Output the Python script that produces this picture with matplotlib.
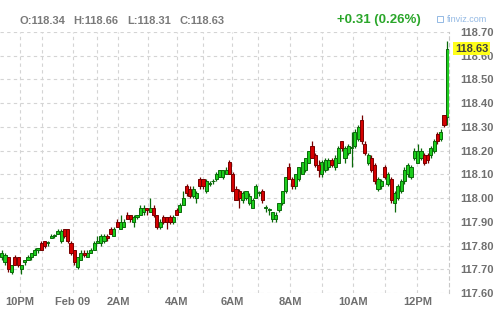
import matplotlib.pyplot as plt
from matplotlib.patches import Rectangle
import numpy as np

# 5-minute USDJPY style bars
opens = [117.75, 117.73, 117.75, 117.69, 117.75, 117.75, 117.70, 117.73, 117.74, 117.75,
         117.76, 117.78, 117.81, 117.82, 117.81, 117.83, 117.84, 117.85, 117.82, 117.87,
         117.87, 117.81, 117.78, 117.71, 117.74, 117.77, 117.75, 117.77, 117.78, 117.81,
         117.81, 117.82, 117.84, 117.87, 117.84, 117.90, 117.87, 117.88, 117.93, 117.93,
         117.90, 117.92, 117.93, 117.94, 117.96, 117.94, 117.96, 117.93, 117.88, 117.92,
         117.92, 117.92, 117.90, 117.95, 117.94, 117.97, 118.05, 118.04, 118.01, 118.00,
         118.08, 118.08, 118.03, 118.06, 118.07, 118.08, 118.09, 118.09, 118.10, 118.15,
         118.10, 118.04, 118.03, 117.99, 118.00, 117.98, 117.96, 118.00, 118.02, 118.03,
         117.96, 117.95, 117.91, 117.91, 117.95, 117.98, 118.03, 118.13, 118.08, 118.05,
         118.08, 118.10, 118.12, 118.15, 118.22, 118.18, 118.14, 118.10, 118.12, 118.13,
         118.16, 118.13, 118.15, 118.24, 118.17, 118.19, 118.21, 118.22, 118.25, 118.33,
         118.23, 118.15, 118.17, 118.14, 118.04, 118.05, 118.13, 118.06, 118.08, 117.98,
         118.00, 118.03, 118.07, 118.10, 118.09, 118.17, 118.15, 118.17, 118.18, 118.18,
         118.18, 118.20, 118.27, 118.25, 118.35, 118.34]
highs = [117.78, 117.77, 117.75, 117.72, 117.76, 117.75, 117.72, 117.74, 117.76, 117.77,
         117.79, 117.79, 117.82, 117.82, 117.82, 117.85, 117.85, 117.87, 117.87, 117.87,
         117.87, 117.82, 117.78, 117.75, 117.78, 117.78, 117.78, 117.79, 117.82, 117.84,
         117.85, 117.85, 117.85, 117.88, 117.88, 117.91, 117.93, 117.91, 117.94, 117.93,
         117.93, 117.93, 117.97, 117.97, 117.96, 118.00, 117.97, 117.93, 117.91, 117.93,
         117.92, 117.93, 117.93, 117.96, 117.98, 118.03, 118.06, 118.05, 118.05, 118.03,
         118.09, 118.08, 118.08, 118.07, 118.08, 118.11, 118.12, 118.12, 118.13, 118.16,
         118.11, 118.05, 118.04, 118.03, 118.03, 118.02, 118.00, 118.06, 118.03, 118.04,
         117.97, 117.96, 117.94, 117.94, 117.98, 118.03, 118.09, 118.15, 118.09, 118.10,
         118.13, 118.15, 118.17, 118.20, 118.24, 118.19, 118.16, 118.16, 118.17, 118.17,
         118.17, 118.18, 118.22, 118.24, 118.22, 118.23, 118.28, 118.29, 118.31, 118.35,
         118.24, 118.19, 118.18, 118.15, 118.09, 118.08, 118.14, 118.11, 118.09, 118.03,
         118.06, 118.08, 118.13, 118.15, 118.14, 118.21, 118.23, 118.21, 118.19, 118.19,
         118.22, 118.25, 118.28, 118.29, 118.35, 118.66]
lows = [117.74, 117.72, 117.69, 117.68, 117.72, 117.71, 117.68, 117.72, 117.74, 117.74,
        117.76, 117.77, 117.78, 117.79, 117.80, 117.83, 117.83, 117.85, 117.81, 117.83,
        117.81, 117.76, 117.72, 117.70, 117.74, 117.75, 117.75, 117.77, 117.78, 117.81,
        117.80, 117.81, 117.82, 117.85, 117.84, 117.88, 117.87, 117.88, 117.91, 117.90,
        117.88, 117.91, 117.93, 117.93, 117.93, 117.94, 117.92, 117.87, 117.87, 117.89,
        117.87, 117.89, 117.89, 117.93, 117.94, 117.97, 118.01, 118.00, 118.00, 117.98,
        118.04, 118.04, 118.02, 118.05, 118.06, 118.07, 118.09, 118.08, 118.10, 118.10,
        118.03, 117.99, 117.96, 117.98, 117.99, 117.97, 117.96, 118.00, 118.01, 117.98,
        117.94, 117.93, 117.90, 117.90, 117.94, 117.97, 118.02, 118.08, 118.04, 118.04,
        118.07, 118.10, 118.11, 118.15, 118.17, 118.13, 118.09, 118.09, 118.11, 118.12,
        118.13, 118.12, 118.15, 118.20, 118.15, 118.18, 118.13, 118.21, 118.24, 118.23,
        118.18, 118.14, 118.11, 118.06, 118.03, 118.04, 118.08, 118.05, 117.98, 117.94,
        117.99, 118.02, 118.06, 118.09, 118.08, 118.16, 118.15, 118.16, 118.14, 118.15,
        118.17, 118.19, 118.23, 118.24, 118.30, 118.31]
closes = [117.77, 117.76, 117.70, 117.72, 117.72, 117.72, 117.72, 117.74, 117.75, 117.77,
          117.78, 117.79, 117.78, 117.80, 117.81, 117.84, 117.84, 117.86, 117.86, 117.84,
          117.82, 117.77, 117.73, 117.75, 117.77, 117.76, 117.77, 117.78, 117.81, 117.82,
          117.84, 117.84, 117.83, 117.85, 117.87, 117.88, 117.90, 117.90, 117.91, 117.91,
          117.92, 117.93, 117.96, 117.96, 117.95, 117.96, 117.93, 117.88, 117.90, 117.90,
          117.90, 117.90, 117.92, 117.93, 117.97, 118.00, 118.02, 118.01, 118.04, 118.02,
          118.05, 118.05, 118.07, 118.06, 118.07, 118.10, 118.12, 118.12, 118.12, 118.10,
          118.03, 117.99, 118.00, 118.02, 118.03, 118.01, 117.99, 118.05, 118.02, 117.99,
          117.96, 117.95, 117.94, 117.93, 117.98, 118.03, 118.09, 118.08, 118.05, 118.10,
          118.13, 118.15, 118.17, 118.20, 118.17, 118.14, 118.12, 118.15, 118.16, 118.16,
          118.14, 118.17, 118.21, 118.21, 118.21, 118.22, 118.21, 118.28, 118.30, 118.24,
          118.19, 118.18, 118.12, 118.07, 118.08, 118.07, 118.09, 118.10, 117.99, 118.02,
          118.05, 118.07, 118.12, 118.14, 118.13, 118.20, 118.20, 118.20, 118.15, 118.16,
          118.21, 118.24, 118.24, 118.28, 118.31, 118.63]

# hour gridlines (bar positions) and their labels
hour_ticks = [5.6, 12.2, 21.6, 28.9, 35.3, 44.3, 53.1, 61.0, 69.8, 77.7,
              87.4, 97.1, 106.5, 116.2, 125.9]
hour_labels = ['10PM', '', 'Feb 09', '', '2AM', '', '4AM', '', '6AM', '',
               '8AM', '', '10AM', '', '12PM']
price_ticks = [117.60, 117.70, 117.80, 117.90, 118.00, 118.10, 118.20,
               118.30, 118.40, 118.50, 118.60, 118.70]

plt.rcParams['font.family'] = ['Liberation Sans', 'DejaVu Sans']

fig = plt.figure(figsize=(5, 3.15), dpi=100)
ax = fig.add_axes([0, 1 - 293 / 315, 449 / 500, 261 / 315])

o = np.array(opens)
h = np.array(highs)
l = np.array(lows)
c = np.array(closes)
x = np.arange(len(c))
up = c >= o

grid_kw = dict(color='#d4d4d4', lw=0.8, ls=(0, (3, 3)), zorder=0)
for p in price_ticks:
    ax.axhline(p, **grid_kw)
for t in hour_ticks:
    ax.axvline(t, **grid_kw)

for mask, face, edge in [(up, '#1ccc1c', '#0a6a0a'), (~up, '#d60000', '#760000')]:
    ax.vlines(x[mask], l[mask], h[mask], color=edge, lw=0.9, zorder=2)
    body = np.maximum(np.abs(c[mask] - o[mask]), 0.004)
    ax.bar(x[mask], body, bottom=np.minimum(o[mask], c[mask]), width=0.95,
           color=face, edgecolor=edge, linewidth=0.7, zorder=3)

ax.set_xlim(-0.5, len(c) - 0.5)
ax.set_ylim(117.60, 118.70)

for s in ['top', 'left', 'bottom']:
    ax.spines[s].set_visible(False)
ax.spines['right'].set_color('#c8c8c8')
ax.spines['right'].set_linestyle((0, (3, 3)))
ax.spines['right'].set_linewidth(0.8)

ax.yaxis.tick_right()
ax.set_yticks(price_ticks)
ax.set_yticklabels([f'{p:.2f}' for p in price_ticks])
ax.set_xticks(hour_ticks)
ax.set_xticklabels(hour_labels)
ax.tick_params(axis='y', length=0, pad=8, labelsize=8, labelcolor='#6f6f6f')
ax.tick_params(axis='x', length=0, pad=3, labelsize=8, labelcolor='#6f6f6f')
for lab in ax.get_xticklabels() + ax.get_yticklabels():
    lab.set_fontweight('bold')

# last price marker
ax.text(1.0 + 6 / 449, closes[-1], f'{closes[-1]:.2f}', transform=ax.get_yaxis_transform(),
        ha='left', va='center', fontsize=8, fontweight='bold', color='#404040', zorder=10,
        bbox=dict(boxstyle='square,pad=0.15', fc='#ffff1a', ec='none'), clip_on=False)

# header
head = [('O:118.34', 20), ('H:118.66', 73), ('L:118.31', 127), ('C:118.63', 180)]
for txt, px in head:
    fig.text(px / 500, 1 - 21 / 315, txt, ha='left', va='center', fontsize=8,
             fontweight='bold', color='#7a7a7a')
fig.text(421 / 500, 1 - 20 / 315, '+0.31 (0.26%)', ha='right', va='center', fontsize=9.5,
         fontweight='bold', color='#2aa62a')
fig.text(447 / 500, 1 - 19 / 315, 'finviz.com', ha='left', va='center', fontsize=6.5,
         color='#93b9e4')
fig.patches.append(Rectangle((437 / 500, 1 - 22 / 315), 6 / 500, 6 / 315,
                             transform=fig.transFigure, fill=False, ec='#93b9e4', lw=0.7))

fig.savefig('out.png', dpi=100)
